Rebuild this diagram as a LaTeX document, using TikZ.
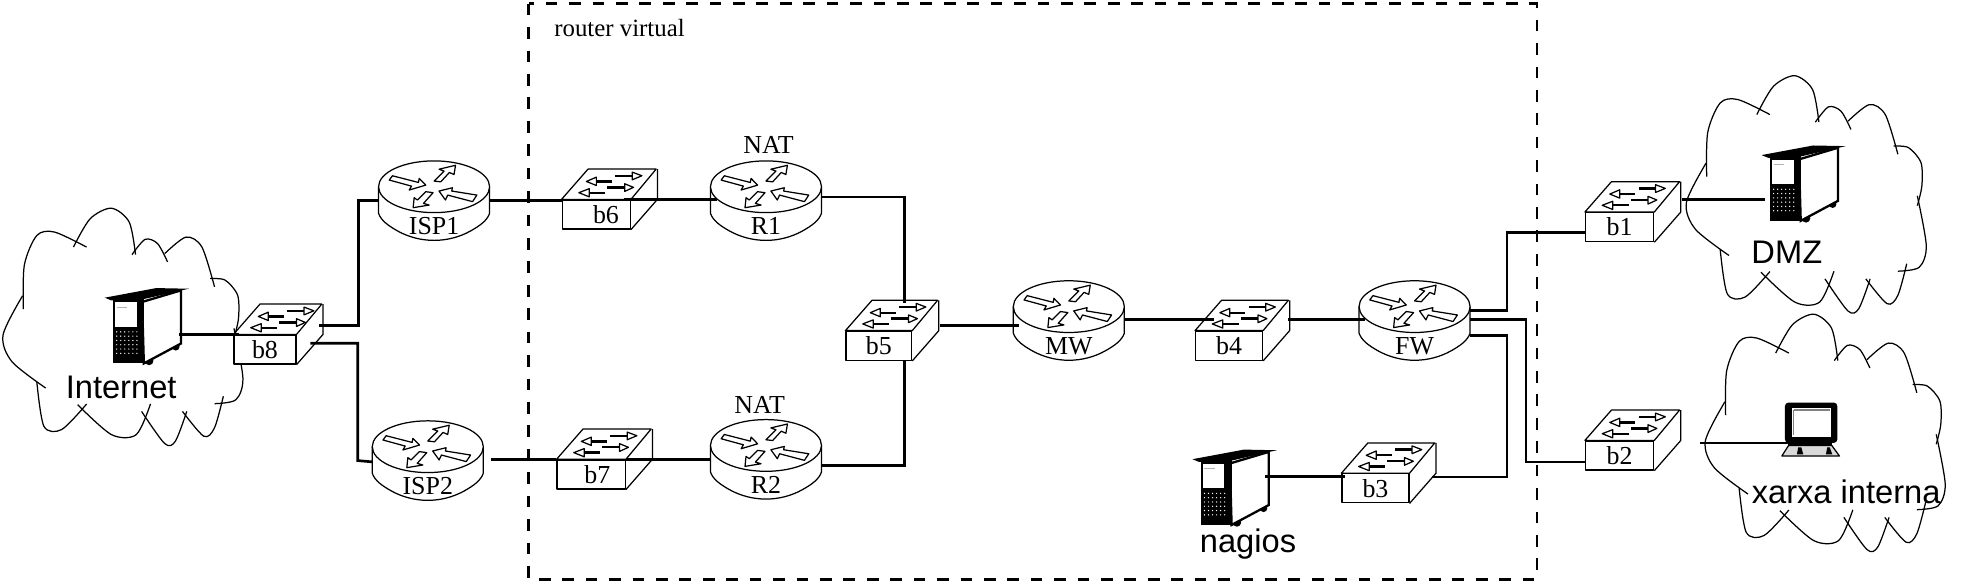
\documentclass[tikz,border=0pt]{standalone}
\usepackage{fontspec}
\setmainfont{Liberation Serif}
\setsansfont{Liberation Sans}
\tikzset{
  thinline/.style={line width=0.7pt, line join=round},
  link/.style={line width=1.5pt, line join=miter},
  zone/.style={line width=1.5pt, dash pattern=on 6.6pt off 6.6pt},
  devtext/.style={font=\fontsize{14.6}{16}\selectfont, inner sep=0pt},
  sanstext/.style={font=\sffamily\fontsize{18.4}{20}\selectfont, inner sep=0pt},
  swbox/.style={thinline, draw, fill=white, rectangle, anchor=north west, inner sep=0pt,
    minimum height=23*0.025cm, font=\fontsize{14.6}{16}\selectfont},
  hidden/.style={rectangle, inner sep=0pt},
}
% switch: name, corner of the front face, front width, label
\newcommand{\switchnode}[4]{
  \begin{scope}[shift={(#2)}]
    \node[swbox, minimum width=#3*0.025cm] (#1) at (0,0) {#4};
    \draw[thinline] (#1.north west) -- ++(21,-24) -- ++(#3,0) -- (#1.north east) -- cycle;
    \draw[thinline] ([shift={(21,-24)}]#1.north east) -- ++(0,24) -- (#1.south east);
    \draw[thinline, fill=white] (19.7,-14.2) -- (27.6,-17.6) -- (27.6,-11) -- cycle;
    \draw[thinline, fill=white] (63.7,-18.7) -- (56,-21.6) -- (56,-15.5) -- cycle;
    \draw[thinline, fill=white] (13.7,-5.3) -- (22,-8.5) -- (22,-2) -- cycle;
    \draw[thinline, fill=white] (57,-9.5) -- (50,-12.4) -- (50,-6.3) -- cycle;
    \draw[line width=1.3pt] (27.6,-14.2) -- (40,-14.2);
    \draw[line width=1.3pt] (42.6,-18.7) -- (56,-18.7);
    \draw[line width=1.3pt] (22,-5.3) -- (34.7,-5.3);
    \draw[line width=1.3pt] (36.3,-9.5) -- (50,-9.5);
  \end{scope}
}
% router: name, centre of the top ellipse, label
\newcommand{\routernode}[3]{
  \begin{scope}[shift={(#2)}]
    \draw[thinline, fill=white] (-44,0) -- (-44,21) .. controls (-42,27) and (-36,31) .. (-29,35)
      .. controls (-20,40) and (-10,42.5) .. (0,42.5) .. controls (10,42.5) and (20,40) .. (29,35)
      .. controls (36,31) and (42,27) .. (44,21) -- (44,0);
    \draw[thinline, fill=white] (0,0) ellipse (44 and 20.5);
    \node[hidden, minimum width=88*0.025cm, minimum height=63*0.025cm] (#1) at (0,11) {};
    \node[devtext] (#1text) at (0,31) {#3};
    \draw[thinline] (-33,-8.7) -- (-12.4,-3.4) -- (-11.8,-6.6) -- (-6.6,-1.3) -- (-19.7,2.6) -- (-17.9,-0.5) -- (-35.5,-5.3) -- cycle;
    \draw[thinline] (17,-17) -- (15.8,-9.7) -- (12.1,-11.3) -- (5.3,-3.9) -- (0,-4.5) -- (7.9,-12.4) -- (3.9,-13.9) -- cycle;
    \draw[thinline] (3.9,3.4) -- (14.5,0.8) -- (14,3.4) -- (33.9,6.6) -- (30.5,11.8) -- (10.8,6.6) -- (9,10.5) -- cycle;
    \draw[thinline] (-16.6,16.6) -- (-3.9,14.5) -- (-8.4,13.2) -- (-0.8,4.7) -- (-6.6,3.9) -- (-13.2,10.5) -- (-15.8,8.7) -- cycle;
  \end{scope}
}
% server tower: name, top left of the lid
\newcommand{\servernode}[2]{
  \begin{scope}[shift={(#2)}]
    \fill (56.3,46.8) circle (3);
    \fill (35.2,58) circle (3.4);
    \draw[line width=1.3pt, fill=white] (29.6,11.3) -- (60.5,2.1) -- (60.5,44.2) -- (31,60) -- cycle;
    \fill (6.5,8.7) rectangle (31,60);
    \fill (0,7.9) -- (40.8,0.3) -- (66.7,0.8) -- (31,9) -- (25,11) -- (5,10) -- cycle;
    \fill[white] (8.2,11.5) rectangle (25.3,31);
    \fill[gray!60] (9.5,15) rectangle (18,16);
    \foreach \i in {0,...,5}
      \foreach \j in {0,...,5}
        \fill[white] (9.5+\i*3.2,35+\j*3.4) circle (0.55);
    \node[hidden, minimum width=60*0.025cm, minimum height=60*0.025cm, anchor=north west] (#1) at (0,0) {};
  \end{scope}
}
\newcommand{\cloudshape}[1]{
  \begin{scope}[shift={(#1)}]
    \draw[thinline] plot[smooth] coordinates {(17.5,80) (18.3,45) (28.2,21.6) (42.2,18.9) (67.6,30.8)};
    \draw[thinline] plot[smooth] coordinates {(57.2,30.8) (70.4,8.4) (87.3,0) (101.4,11) (106.4,36.8)};
    \draw[thinline] plot[smooth] coordinates {(103.6,36.8) (114,24.7) (123.9,28.1) (131.8,42.6)};
    \draw[thinline] plot[smooth] coordinates {(129.5,36) (146.4,22.9) (159,30.8) (169,62.3)};
    \draw[thinline] plot[smooth] coordinates {(165.6,55.8) (177.4,57) (187.3,68.9) (188,87.3) (184.4,103)};
    \draw[thinline] plot[smooth] coordinates {(184.4,95.2) (191.5,134.7) (185.9,151.8) (169,154.9)};
    \draw[thinline] plot[smooth] coordinates {(176,149) (169,174) (160.5,180.7) (143.6,161)};
    \draw[thinline] plot[smooth] coordinates {(147,161) (138,184.6) (129.5,186.5) (111.2,161)};
    \draw[thinline] plot[smooth] coordinates {(118.3,155) (107,179.4) (87.3,179.4) (60.5,155.7)};
    \draw[thinline] plot[smooth] coordinates {(67.6,155.2) (47.9,175.4) (33.8,172.8) (28.2,137.8)};
    \draw[thinline] plot[smooth] coordinates {(35.2,142.5) (8.4,121.5) (1.4,100.5) (16.9,69.4)};
  \end{scope}
}
\begin{document}
\begin{tikzpicture}[x=0.025cm, y=-0.025cm]
  \useasboundingbox (0,0) rectangle (1567.5,462.8);
  \draw[zone] (419,3) rectangle (1218,459);
  \node[devtext, font=\fontsize{14}{16}\selectfont, anchor=west] (zonetext) at (439,22) {router virtual};
  % clouds
  \cloudshape{1,165}
  \cloudshape{1335,60}
  \cloudshape{1350,249}
  % switches
  \switchnode{b8}{185,265}{49}{b8}
  \switchnode{b6}{445,158}{54}{\hspace{11pt}b6}
  \switchnode{b7}{441,364}{54}{\hspace{7pt}b7}
  \switchnode{b5}{670,262}{52}{b5}
  \switchnode{b4}{947,262}{53}{b4\hspace{11pt}}
  \switchnode{b3}{1063,375}{53}{b3}
  \switchnode{b1}{1256,168}{54}{b1}
  \switchnode{b2}{1256,349}{54}{b2}
  % routers
  \routernode{isp1}{344,148}{ISP1}
  \routernode{isp2}{339,354}{ISP2}
  \routernode{r1}{607,148}{R1}
  \routernode{r2}{607,353}{R2}
  \routernode{mw}{847,243}{MW}
  \routernode{fw}{1121,243}{FW}
  \node[devtext] (natup) at (609,115) {NAT};
  \node[devtext] (natdown) at (602,321) {NAT};
  % hosts
  \servernode{inet}{83,228}
  \servernode{dmz}{1396,115}
  \servernode{nagios}{945,356}
  \begin{scope}[shift={(1412,319)}]
    \fill[rounded corners=2] (2.5,0) rectangle (44,32);
    \fill[white] (8,4.5) rectangle (39,27);
    \draw[gray, line width=0.8pt] (9.5,6) -- (9.5,26) (9.5,6) -- (38,6);
    \fill (5,31) rectangle (40,35);
    \draw[thinline, fill=gray!30] (5.4,34) -- (39.6,34) -- (45.7,42.4) -- (0,42.4) -- cycle;
    \fill (13,35.5) -- (15.5,35.5) -- (17,41) -- (12,41) -- cycle;
    \fill (36,35.5) -- (38,35.5) -- (40,41) -- (35,41) -- cycle;
    \node[hidden, minimum width=46*0.025cm, minimum height=42*0.025cm, anchor=north west] (pc) at (0,0) {};
    \coordinate (pcport) at (12,32);
  \end{scope}
  \node[sanstext] (inettext) at (96,307) {Internet};
  \node[sanstext] (dmztext) at (1416,200) {DMZ};
  \node[sanstext] (nagiostext) at (989,431) {nagios};
  \node[sanstext] (pctext) at (1463,390) {xarxa interna};
  % links
  \draw[link] ([xshift=-1pt]inet.east |- b8.north west) -- ([xshift=3pt]b8.north west);
  \draw[link] ([shift={(18,-7)}]b8.north east) -| ([xshift=-11pt]isp1.west) -- (isp1.west);
  \draw[link] ([shift={(11,7)}]b8.north east) -| ([xshift=-8pt]isp2.west |- isp2.west) -- ([shift={(0,1)}]isp2.west);
  \draw[link] (isp1.east) -- (isp1.east -| b6.north west);
  \draw[link] ([xshift=4pt]isp2.east |- b7.north west) -- (b7.north west);
  \draw[link] ([xshift=-4pt]b6.north east) -- ([xshift=4pt]b6.north east -| r1.west);
  \draw[link] (b7.north east) -- (b7.north east -| r2.west);
  \draw[link] ([shift={(0,-3)}]r1.east) -| ([shift={(47,-22)}]b5.north west);
  \draw[link] ([shift={(0,5)}]r2.east) -| ([shift={(47,23)}]b5.north west);
  \draw[link] ([shift={(22,-4)}]b5.north east) -- ([shift={(5,-4)}]b5.north east -| mw.west);
  \draw[link] ([shift={(0,-1)}]mw.east) -- ([shift={(15,-9)}]b4.north west);
  \draw[link] ([shift={(20,-9)}]b4.north east) -- ([shift={(5,-1)}]fw.west);
  \draw[link] ([shift={(0,-8)}]fw.east) -- ++(29,0) |- ([shift={(0,4)}]b1.west);
  \draw[link] ([shift={(0,-1)}]fw.east) -- ++(44,0) |- ([shift={(0,5)}]b2.west);
  \draw[link] ([shift={(0,12)}]fw.east) -- ++(29,0) |- ([shift={(18,3)}]b3.north east);
  \draw[link] ([xshift=2pt,yshift=-2pt]b3.north west) -- ([xshift=-2pt,yshift=-2pt]b3.north west -| nagios.east);
  \draw[link] ([shift={(22,-10)}]b1.north east) -- ([shift={(3,-10)}]b1.north east -| dmz.west);
  \draw[link] ([shift={(36,2)}]b2.north east) -- (pcport);
\end{tikzpicture}
\end{document}
